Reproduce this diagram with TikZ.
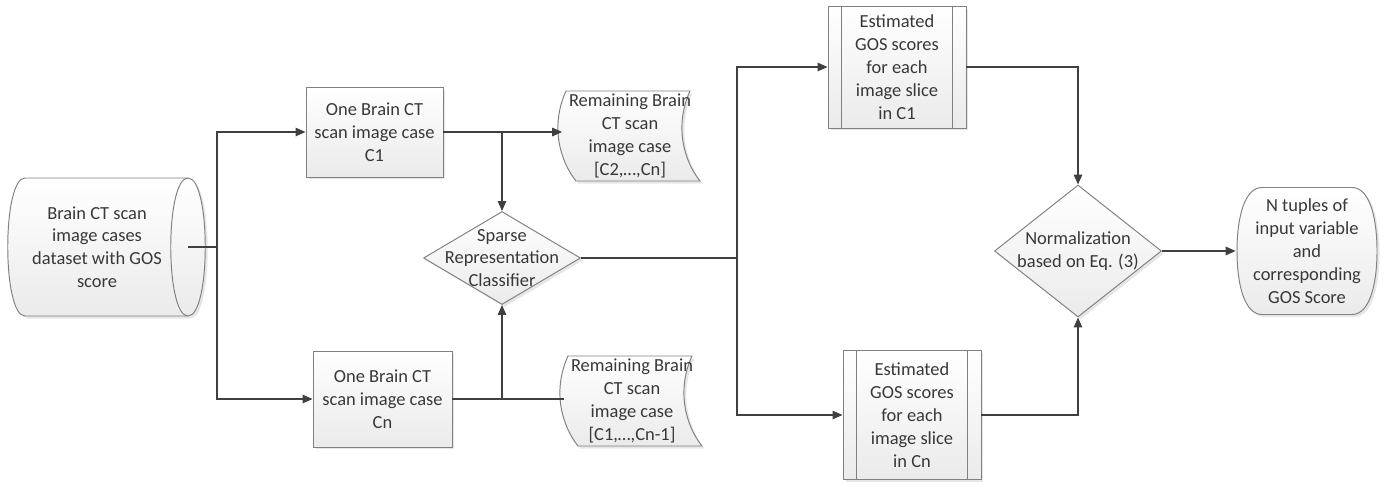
\documentclass[tikz,border=0pt]{standalone}
\usepackage{fontspec}
\setmainfont{Carlito}
\usetikzlibrary{shapes.geometric,arrows.meta,shadows,backgrounds}
\definecolor{linegray}{HTML}{404040}
\definecolor{bordergray}{HTML}{808080}
\definecolor{textgray}{HTML}{383838}
\tikzset{
  shapebase/.style={draw=bordergray,line width=0.55pt,top color=white,bottom color=gray!16,
    drop shadow={shadow xshift=0.05cm,shadow yshift=-0.05cm,opacity=0.2}},
  procbox/.style={shapebase,rectangle,align=center,inner sep=0pt,text=textgray},
  decision/.style={shapebase,diamond,inner sep=0pt},
  txt/.style={align=center,inner sep=0pt,text=textgray},
  line/.style={draw=linegray,line width=0.85pt},
  arrow/.style={line,-{Triangle[length=0.2cm,width=0.17cm]}}
}

\begin{document}
\begin{tikzpicture}[x=0.02cm,y=-0.02cm,font=\fontsize{10.5}{13}\selectfont]
    \useasboundingbox (0,0) rectangle (1390,484);
    % setup the nodes
    \node[txt,minimum width=3.64cm] (data) at (97,247) {Brain CT scan\\image cases\\dataset with GOS\\score};
    \node[procbox,minimum width=2.74cm,minimum height=1.8cm] (c1) at (374.5,132) {One Brain CT\\scan image case\\C1};
    \node[procbox,minimum width=2.78cm,minimum height=1.92cm] (cn) at (382.5,399) {One Brain CT\\scan image case\\Cn};
    \node[txt,minimum width=2.7cm] (rem1) at (630,136) {Remaining Brain\\CT scan\\image case\\{}[C2,…,Cn]};
    \node[txt,minimum width=2.7cm] (rem2) at (632,401) {Remaining Brain\\CT scan\\image case\\{}[C1,…,Cn-1]};
    \node[decision,minimum width=3.14cm,minimum height=1.86cm] (src) at (502,258) {};
    \node[txt] (srctxt) at (src) {Sparse\\Representation\\Classifier};
    \node[procbox,minimum width=2.76cm,minimum height=2.44cm] (est1) at (897,67) {Estimated\\GOS scores\\for each\\image slice\\in C1};
    \node[procbox,minimum width=2.76cm,minimum height=2.58cm] (est2) at (912,415) {Estimated\\GOS scores\\for each\\image slice\\in Cn};
    \node[decision,minimum width=3.34cm,minimum height=2.64cm] (norm) at (1078,251) {};
    \node[txt] (normtxt) at (norm) {Normalization\\based on Eq. (3)};
    \node[txt,minimum width=2.8cm] (out) at (1307,251) {N tuples of\\input variable\\and\\corresponding\\GOS Score};
    % borders drawn behind the texts
    \begin{scope}[on background layer]
        % stored data
        \path[shapebase,shift={(data)}] (-72,-69) -- (91,-69) .. controls (114,-69) and (114,69) .. (91,69)
            -- (-72,69) .. controls (-95,69) and (-95,-69) .. (-72,-69) -- cycle;
        \draw[bordergray,line width=0.55pt,shift={(data)}] (91,-69) .. controls (68,-69) and (68,69) .. (91,69);
        % remaining cases
        \foreach \n in {rem1,rem2}
        {
            \path[shapebase,shift={(\n)}] (-64,-45) .. controls (-80,-10) and (-70,25) .. (-54,45)
                -- (70,45) .. controls (54,25) and (44,-10) .. (60,-45) -- cycle;
        }
        % terminator
        \path[shapebase,shift={(out)}] (-45,-63.5) -- (45,-63.5) .. controls (62,-63.5) and (70,-35) .. (70,0)
            .. controls (70,35) and (62,63.5) .. (45,63.5) -- (-45,63.5) .. controls (-62,63.5) and (-70,35) .. (-70,0)
            .. controls (-70,-35) and (-62,-63.5) .. (-45,-63.5) -- cycle;
    \end{scope}
    % inner bars of the process boxes
    \foreach \n in {est1,est2}
    {
        \draw[bordergray,line width=0.55pt] ([xshift=0.28cm]\n.north west) -- ([xshift=0.28cm]\n.south west);
        \draw[bordergray,line width=0.55pt] ([xshift=-0.28cm]\n.north east) -- ([xshift=-0.28cm]\n.south east);
    }
    % connectors
    \coordinate (split1) at (217,247);
    \coordinate (split2) at (737,258);
    \draw[line] (data.east) -- (split1);
    \draw[arrow] (split1) |- (c1);
    \draw[arrow] (split1) |- (cn);
    \draw[arrow] (c1.east) -- (c1.east -| rem1.west);
    \draw[arrow] (c1.east -| src.north) -- (src.north);
    \draw[line] (cn.east) -- (cn.east -| rem2.west);
    \draw[arrow] (cn.east -| src.south) -- (src.south);
    \draw[line] (src.east) -- (split2);
    \draw[arrow] (split2) |- (est1);
    \draw[arrow] (split2) |- (est2);
    \draw[arrow] (est1.east) -| (norm.north);
    \draw[arrow] (est2.east) -| (norm.south);
    \draw[arrow] (norm.east) -- ([xshift=-0.02cm]out.west);
\end{tikzpicture}
\end{document}
